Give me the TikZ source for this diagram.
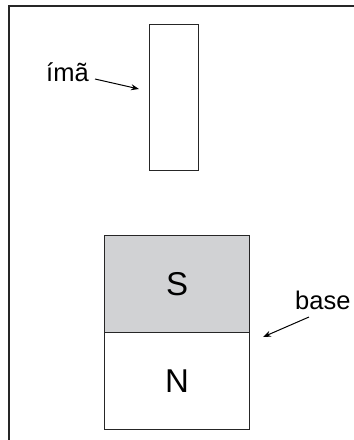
\documentclass[tikz,border=0pt]{standalone}
\usetikzlibrary{arrows.meta}
\usepackage{fontspec}
\setmainfont{Liberation Sans}
\definecolor{sgray}{HTML}{D1D2D4}
\begin{document}
\begin{tikzpicture}[x=1pt,y=-1pt,
  box/.style={draw=black!85,line width=1.3pt},
  lbl/.style={font=\fontsize{25.5}{25.5}\selectfont,inner sep=0pt},
  pole/.style={font=\fontsize{33}{33}\selectfont,inner sep=0pt},
  arr/.style={-{Stealth[length=8pt,width=6pt]},line width=1pt}]
\useasboundingbox (0,0) rectangle (354,440);
\draw[line width=1.6pt,black!85] (354,6) -- (9,6) -- (9,440);
\node[box,minimum width=49pt,minimum height=146pt,inner sep=0pt,anchor=north west] (ima) at (149,24) {};
\node[lbl,anchor=base west] (imalbl) at (46,81) {ímã};
\coordinate (imastart) at (95,79);
\coordinate (imatip) at (139,89);
\draw[arr] (imastart) -- (imatip);
\node[box,fill=sgray,minimum width=145pt,minimum height=97pt,inner sep=0pt,anchor=north west] (S) at (104,235) {};
\node[box,minimum width=145pt,minimum height=97pt,inner sep=0pt,anchor=north west] (N) at (104,332) {};
\node[pole] (Slbl) at (S.center) {S};
\node[pole] (Nlbl) at (N.center) {N};
\node[lbl,anchor=base west] (baselbl) at (295,309) {base};
\coordinate (basestart) at (309,317);
\coordinate (basetip) at (263,337);
\draw[arr] (basestart) -- (basetip);
\end{tikzpicture}
\end{document}
